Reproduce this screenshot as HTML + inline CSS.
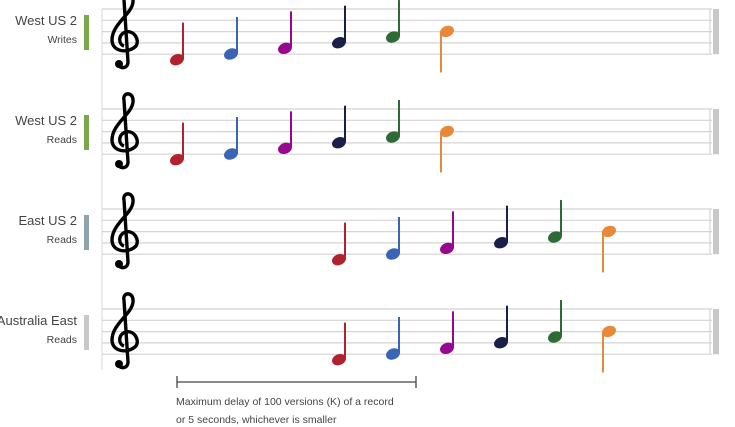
<!DOCTYPE html>
<html><head><meta charset="utf-8"><style>
body{margin:0;background:#fff;width:735px;height:427px;overflow:hidden;font-family:"Liberation Sans",sans-serif}
</style></head><body>
<svg id="c" width="735" height="427" style="position:absolute;left:0;top:0">
<line x1="102" y1="9" x2="102" y2="370" stroke="#d8d8d8" stroke-width="1"/>
<g>
<line x1="177" y1="382" x2="416" y2="382" stroke="#444" stroke-width="1.3"/>
<line x1="177" y1="376" x2="177" y2="388" stroke="#444" stroke-width="1.3"/>
<line x1="416" y1="376" x2="416" y2="388" stroke="#444" stroke-width="1.3"/>
<text x="176" y="405" font-size="10.5" fill="#444">Maximum delay of 100 versions (K) of a record</text>
<text x="176" y="423" font-size="10.5" fill="#444">or 5 seconds, whichever is smaller</text>
</g>
</svg>
<script>
const regions=["West US 2","West US 2","East US 2","Australia East"];
const ops=["Writes","Reads","Reads","Reads"];
const barColors=["#7ca64a","#7ca64a","#8fa3ad","#c8c8c8"];
const startSlots=[0,0,3,3];
const pitches=[-1,0,1,2,3,4];
const noteColors=["#b0232e","#3a64b8","#95088f","#1a1f48","#2e6a35","#e8893a"];
const svg=document.getElementById('c');
const NS='http://www.w3.org/2000/svg';
const xOf=s=>177+54*s;
const rowTop=r=>9+100*r;
const yOf=(r,p)=>rowTop(r)+45-p*5.65;
function mk(t,a,p){const e=document.createElementNS(NS,t);for(const k in a)e.setAttribute(k,a[k]);(p||svg).appendChild(e);return e;}
regions.forEach((reg,r)=>{
  const g=mk('g',{});
  
  
  const t=rowTop(r);
  for(let i=0;i<5;i++){mk('line',{x1:102,x2:712,y1:t+i*11.3,y2:t+i*11.3,stroke:'#d4d4d4','stroke-width':1.2},g);}
  mk('line',{x1:710,x2:710,y1:t,y2:t+45.2,stroke:'#d4d4d4','stroke-width':1.2},g);
  mk('rect',{x:713,y:t,width:6,height:45.2,fill:'#c8c8c8'},g);
  const cl=mk('path',{d:`M118,${t+53} C117,${t+60} 128,${t+61} 128,${t+53} L124,${t-9} C122,${t-17} 134,${t-18} 133,${t-7} C132,${t+5} 112,${t+15} 112,${t+31} C112,${t+43} 128,${t+45} 136,${t+37} C140,${t+31} 134,${t+21} 126,${t+23} C118,${t+25} 118,${t+35} 124,${t+37}`,fill:'none',stroke:'#000','stroke-width':3.4},g);
  
  
  mk('circle',{cx:119,cy:t+55,r:4,fill:'#000'},g);
  const lb=mk('text',{x:77,y:t+16,'font-size':13,fill:'#444','text-anchor':'end'},g);lb.textContent=reg;
  
  
  const ob=mk('text',{x:77,y:t+34,'font-size':10.5,fill:'#444','text-anchor':'end'},g);ob.textContent=ops[r];
  
  
  const bar=mk('rect',{x:84,y:t+6,width:5,height:35,fill:barColors[r]},g);
  
  
  pitches.forEach((p,i)=>{
    const x=xOf(startSlots[r]+i),y=yOf(r,p),c=noteColors[i];
    const n=mk('g',{},g);
    
    
    mk('ellipse',{cx:x,cy:y,rx:7.2,ry:5.4,fill:c,transform:`rotate(-22 ${x} ${y})`},n);
    if(p<4) mk('line',{x1:x+6,x2:x+6,y1:y-1,y2:y-37,stroke:c,'stroke-width':2},n);
    else mk('line',{x1:x-6,x2:x-6,y1:y+1,y2:y+41,stroke:c,'stroke-width':2},n);
  });
});
</script>
</body></html>
